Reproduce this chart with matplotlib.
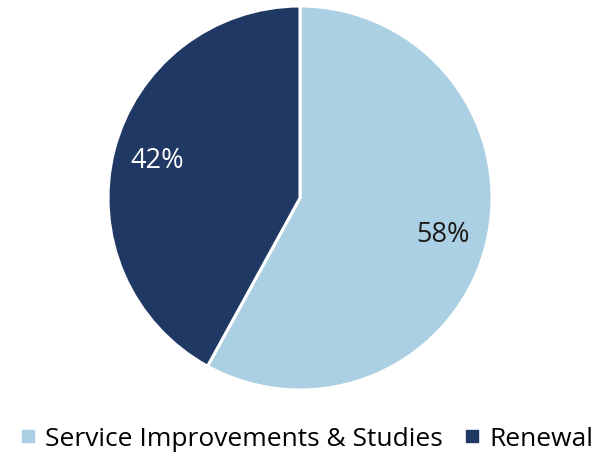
import matplotlib
matplotlib.use("Agg")
import matplotlib.pyplot as plt
from matplotlib.lines import Line2D

categories = ["Service Improvements & Studies", "Renewal"]
values = [58, 42]
colors = ["#ABCFE3", "#1F3864"]
label_colors = ["#1a1a1a", "white"]

fig = plt.figure(figsize=(5.99, 4.58), dpi=100)
ax = fig.add_axes([108/599, 68/458, 384/599, 384/458])
wedges, texts, autotexts = ax.pie(
    values, colors=colors, startangle=90, counterclock=False,
    autopct="%d%%", pctdistance=0.77,
    wedgeprops=dict(edgecolor="white", linewidth=2.2),
    textprops=dict(fontsize=19.5, family="Open Sans"))
for t, c in zip(autotexts, label_colors):
    t.set_color(c)
ax.set_xlim(-1.0, 1.0)
ax.set_ylim(-1.0, 1.0)

handles = [Line2D([0], [0], marker="s", linestyle="none", markersize=9,
                  markerfacecolor=c, markeredgecolor=c) for c in colors]
fig.legend(handles, categories, loc="center", bbox_to_anchor=(0.51, 1 - 439/458),
           ncol=2, frameon=False, handletextpad=0.25,
           columnspacing=0.7, handlelength=0.8,
           prop=dict(family="Open Sans", size=19))
fig.savefig("out.png", dpi=100)
